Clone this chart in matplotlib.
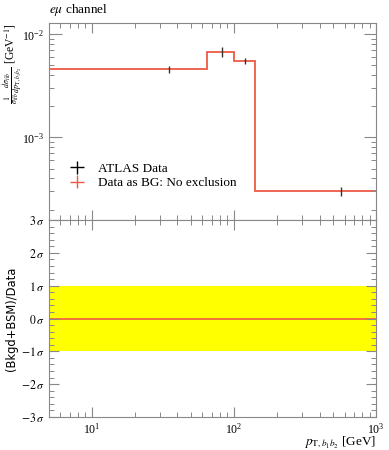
import numpy as np
import matplotlib
matplotlib.use("Agg")
from matplotlib import pyplot as plt
from matplotlib.ticker import LogLocator, MultipleLocator, NullFormatter

plt.rcParams['font.family'] = ['Liberation Serif', 'DejaVu Serif']
plt.rcParams['mathtext.fontset'] = 'stix'

# Binned distribution (normalised), e mu channel
bin_edges = [5, 65, 100, 140, 1000]
data_vals = [4.6e-3, 6.8e-3, 5.55e-3, 3.0e-4]
data_err_rel = [0.085, 0.11, 0.07, 0.10]
bg_vals = [4.6e-3, 6.8e-3, 5.55e-3, 3.0e-4]

# Ratio panel (in sigma)
band_lo, band_hi = -1.0, 1.0
ratio_vals = [0.0, 0.0, 0.0, 0.0]

red = '#ee5a44'
grey = '#888888'

fig = plt.figure(figsize=(3.89, 4.5), dpi=100)
ax1 = fig.add_axes([0.126, 0.511, 0.841, 0.4385])
ax2 = fig.add_axes([0.126, 0.0733, 0.841, 0.4377])

edges = np.array(bin_edges)
centres = 0.5 * (edges[:-1] + edges[1:])
dv = np.array(data_vals)
err = dv * np.array(data_err_rel)

# Top panel
ax1.stairs(bg_vals, edges, color=red, lw=1.3, baseline=None)
ax1.errorbar(centres, dv, yerr=err, fmt='none', ecolor='#333333', elinewidth=1.0)
ax1.set_xscale('log')
ax1.set_yscale('log')
ax1.set_xlim(5, 1000)
ax1.set_ylim(1.58e-4, 1.3e-2)

# legend proxies
h1 = ax1.errorbar([], [], xerr=[], yerr=[], fmt='none', ecolor='black', elinewidth=1.0)
h2 = ax1.errorbar([], [], xerr=[], yerr=[], fmt='none', ecolor=red, elinewidth=1.0)
ax1.legend([h1, h2], ['ATLAS Data', 'Data as BG: No exclusion'], loc='lower left',
           bbox_to_anchor=(0.025, 0.13), frameon=False, fontsize=9.5,
           handlelength=2.2, handletextpad=0.5, labelspacing=0.15, borderaxespad=0)

# y label placed by hand so the tall fraction stays inside the figure
fig.text(0.004, 0.949,
         r'$\frac{1}{\sigma_{t\bar{t}b}}\frac{d\sigma_{t\bar{t}b}}{dp_{\mathrm{T},b_1b_2}}$ [GeV$^{-1}$]',
         fontsize=8.3, rotation=90, ha='left', va='top')
ax1.text(0.0, 1.025, r'$e\mu$ channel', transform=ax1.transAxes, fontsize=9.5,
         ha='left', va='bottom')
ax1.tick_params(axis='x', labelbottom=False)

# Bottom panel
ax2.axhspan(band_lo, band_hi, color='#ffff00', lw=0)
ax2.stairs(ratio_vals, edges, color=red, lw=1.2, baseline=None)
ax2.set_xscale('log')
ax2.set_xlim(5, 1000)
ax2.set_ylim(-3, 3)
ax2.yaxis.set_minor_locator(MultipleLocator(0.2))
sig_ticks = [-3, -2, -1, 0, 1, 2, 3]
ax2.set_yticks(sig_ticks)
ax2.set_yticklabels([r'$%d\,\sigma$' % t for t in sig_ticks])
ax2.set_ylabel('(Bkgd+BSM)/Data', family='DejaVu Sans', fontsize=8.3)
ax2.yaxis.set_label_coords(-0.095, 0.5)
ax2.set_xlabel(r'$p_{\mathrm{T},b_1b_2}$ [GeV]', fontsize=9.5, loc='right')
ax2.xaxis.set_label_coords(1.0, -0.085)

for ax in (ax1, ax2):
    for s in ax.spines.values():
        s.set_color(grey)
    ax.tick_params(which='both', direction='in', top=True, right=True, color=grey,
                   labelsize=8.5)
    ax.tick_params(which='major', length=7, width=0.8)
    ax.tick_params(which='minor', length=3.5, width=0.7)
    ax.xaxis.set_major_locator(LogLocator(base=10, numticks=10))
    ax.xaxis.set_minor_locator(LogLocator(base=10, subs=np.arange(2, 10), numticks=10))
    ax.xaxis.set_minor_formatter(NullFormatter())
ax1.yaxis.set_minor_formatter(NullFormatter())
ax1.tick_params(axis='y', which='major', length=9)

fig.savefig('out.png', dpi=100)
